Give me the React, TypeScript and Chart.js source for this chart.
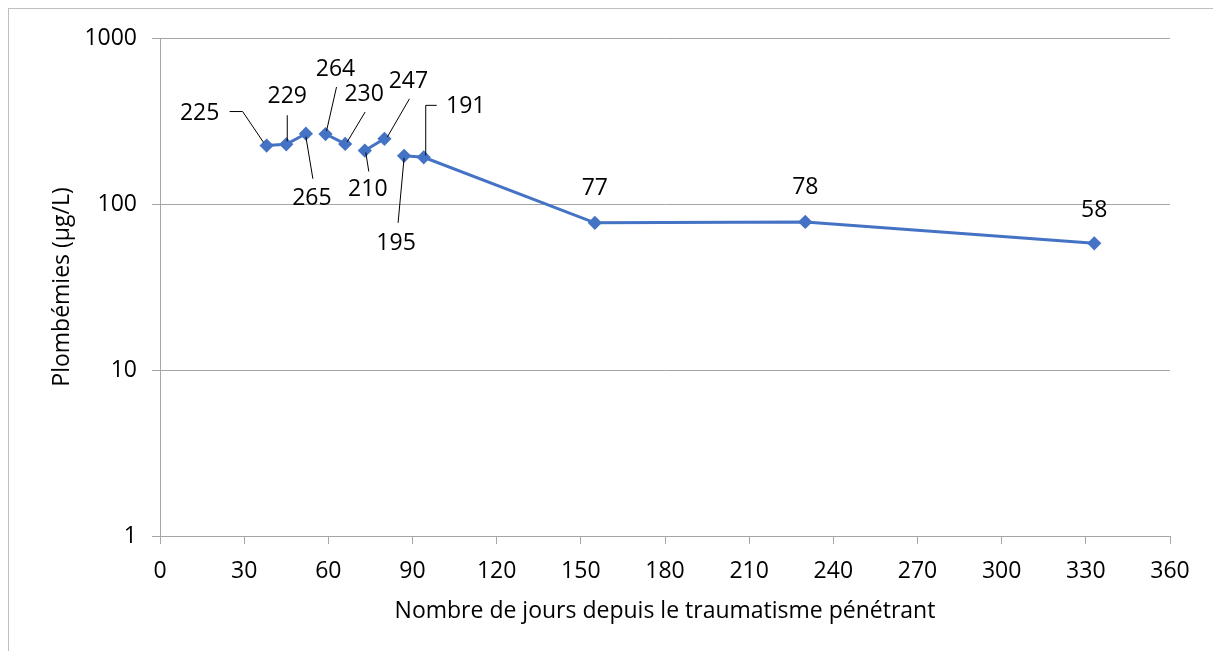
import React, { useEffect, useRef } from "react";
import { Chart, registerables } from "chart.js";

Chart.register(...registerables);

const days = [38, 45, 52, 59, 66, 73, 80, 87, 94, 155, 230, 333];
const leadLevels = [225, 229, 265, 264, 230, 210, 247, 195, 191, 77, 78, 58];
const yTicks = [1, 10, 100, 1000];
// indices after which the line is interrupted
const breaksAfter = [2, 4, 6];

// label placement relative to each point (dx, dy of text centre) and leader line (relative polyline)
const labelOffsets: [number, number][] = [
  [-67, -32], [1, -48], [6, 65], [10, -65], [19, -50], [3, 39],
  [24, -57], [-8, 88], [42, -51], [0, -34], [0, -34], [0, -33],
];
const leaders: [number, number][][] = [
  [[-37, -34], [-24, -34], [-3, -3]],
  [[1, -29], [1, -3]],
  [[7, 45], [0, 3]],
  [[11, -47], [1, -3]],
  [[20, -32], [2, -2]],
  [[4, 21], [1, 2]],
  [[25, -40], [3, -2]],
  [[-6, 67], [0, 2]],
  [[13, -52], [2, -52], [2, -2]],
  [], [], [],
];

const FONT = "'Open Sans', 'Liberation Sans', sans-serif";
const FS = 23;
const BLUE = "#4472C4";
const GRID = "#a6a6a6";

const labelPlugin = {
  id: "pointLabels",
  afterDatasetsDraw(chart: any) {
    const meta = chart.getDatasetMeta(0);
    const ctx = chart.ctx;
    ctx.save();
    ctx.font = `${FS}px ${FONT}`;
    ctx.fillStyle = "#000";
    ctx.textAlign = "center";
    ctx.textBaseline = "middle";
    ctx.strokeStyle = "#000";
    ctx.lineWidth = 1;
    meta.data.forEach((pt: any, i: number) => {
      const [dx, dy] = labelOffsets[i];
      ctx.fillText(String(leadLevels[i]), pt.x + dx, pt.y + dy);
      const l = leaders[i];
      if (l.length > 1) {
        ctx.beginPath();
        l.forEach(([lx, ly], k) => {
          if (k === 0) ctx.moveTo(pt.x + lx, pt.y + ly);
          else ctx.lineTo(pt.x + lx, pt.y + ly);
        });
        ctx.stroke();
      }
    });
    ctx.restore();
  },
};

export default function App() {
  const ref = useRef<HTMLCanvasElement>(null);
  useEffect(() => {
    if (!ref.current) return;
    const chart = new Chart(ref.current, {
      type: "line",
      data: {
        datasets: [
          {
            data: days.map((d, i) => ({ x: d, y: leadLevels[i] })),
            borderColor: BLUE,
            backgroundColor: BLUE,
            borderWidth: 3,
            pointStyle: "rectRot",
            pointRadius: 5,
            pointHoverRadius: 5,
            tension: 0,
            segment: {
              borderColor: (c: any) =>
                breaksAfter.includes(c.p0DataIndex) ? "rgba(0,0,0,0)" : BLUE,
            },
          },
        ],
      },
      options: {
        animation: false,
        responsive: false,
        maintainAspectRatio: false,
        layout: { padding: { top: 29, right: 46, left: 0, bottom: 0 } },
        plugins: { legend: { display: false }, tooltip: { enabled: false } },
        scales: {
          x: {
            type: "linear",
            min: 0,
            max: 360,
            ticks: {
              stepSize: 30,
              color: "#000",
              font: { family: FONT, size: FS },
              padding: 14,
              maxRotation: 0,
            },
            grid: {
              drawOnChartArea: false,
              drawTicks: true,
              tickLength: 8,
              color: GRID,
            },
            border: { color: GRID, width: 1 },
            title: {
              display: true,
              text: "Nombre de jours depuis le traumatisme pénétrant",
              color: "#000",
              font: { family: FONT, size: FS },
              padding: { top: 0, bottom: 20 },
            },
            afterFit: (s: any) => {
              s.height = 109;
            },
          },
          y: {
            type: "logarithmic",
            min: 1,
            max: 1000,
            afterBuildTicks: (s: any) => {
              s.ticks = yTicks.map((v) => ({ value: v }));
            },
            ticks: {
              color: "#000",
              font: { family: FONT, size: FS },
              padding: 15,
              callback: (v: any) => String(v),
            },
            grid: { color: GRID, tickLength: 8, lineWidth: 1 },
            border: { color: GRID, width: 1 },
            title: {
              display: true,
              text: "Plombémies (µg/L)",
              color: "#000",
              font: { family: FONT, size: FS },
              padding: { top: 40, bottom: 0 },
            },
            afterFit: (s: any) => {
              s.width = 151;
            },
          },
        },
      },
      plugins: [labelPlugin],
    });
    return () => chart.destroy();
  }, []);
  return (
    <div
      style={{
        width: 1207,
        height: 645,
        border: "1px solid #bfbfbf",
        boxSizing: "content-box",
        background: "#fff",
      }}
    >
      <canvas ref={ref} width={1207} height={636} style={{ display: "block" }} />
    </div>
  );
}
